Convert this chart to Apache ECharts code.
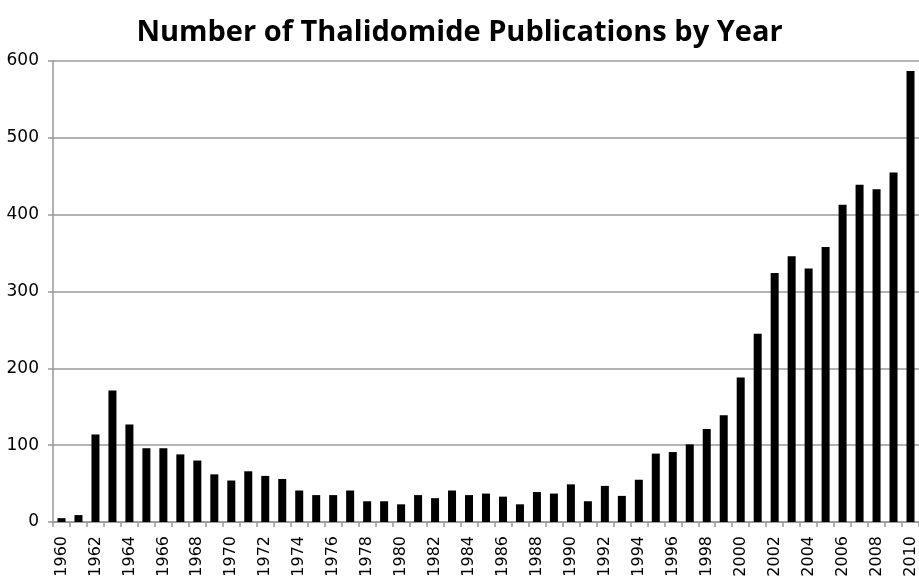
<!DOCTYPE html>
<html><head><meta charset="utf-8">
<script src="https://cdn.jsdelivr.net/npm/echarts@6/dist/echarts.min.js"></script>
<style>html,body{margin:0;padding:0;background:#fff}#c{width:919px;height:584px}</style>
</head><body><div id="c"></div>
<script>
const years = [];
for (let y = 1960; y <= 2010; y++) years.push(String(y));
const publications = [5, 9, 114, 171, 127, 96, 96, 88, 80, 62,
  54, 66, 60, 56, 41, 35, 35, 41, 27, 27,
  23, 35, 31, 41, 35, 37, 33, 23, 39, 37,
  49, 27, 47, 34, 55, 89, 91, 101, 121, 139,
  188, 245, 324, 346, 330, 358, 413, 439, 433, 455,
  587];
const titleText = 'Number of Thalidomide Publications by Year';

const chart = echarts.init(document.getElementById('c'));
chart.setOption({
  animation: false,
  backgroundColor: '#fff',
  title: {
    text: titleText, left: 'center', top: 13,
    textStyle: { fontFamily: 'Open Sans', fontWeight: 'bold', fontSize: 29, color: '#000' }
  },
  grid: { left: 53, right: -1, top: 61, bottom: 62, containLabel: false },
  xAxis: {
    type: 'category', data: years, boundaryGap: true,
    axisLine: { lineStyle: { color: '#999', width: 1.5 } },
    axisTick: { show: true, length: 5, interval: 0, lineStyle: { color: '#999', width: 1.5 } },
    axisLabel: { interval: 1, rotate: 90, fontFamily: 'DejaVu Sans', fontSize: 16, color: '#000', margin: 14 }
  },
  yAxis: {
    type: 'value', min: 0, max: 600, interval: 100,
    axisLine: { show: true, lineStyle: { color: '#999', width: 1.5 } },
    axisTick: { show: true, length: 5, lineStyle: { color: '#999', width: 1.5 } },
    axisLabel: { fontFamily: 'DejaVu Sans', fontSize: 17, color: '#000', margin: 14 },
    splitLine: { lineStyle: { color: '#999', width: 1.5 } }
  },
  series: [{
    type: 'bar', data: publications, barWidth: 8,
    itemStyle: { color: '#000' }
  }]
});
</script></body></html>
